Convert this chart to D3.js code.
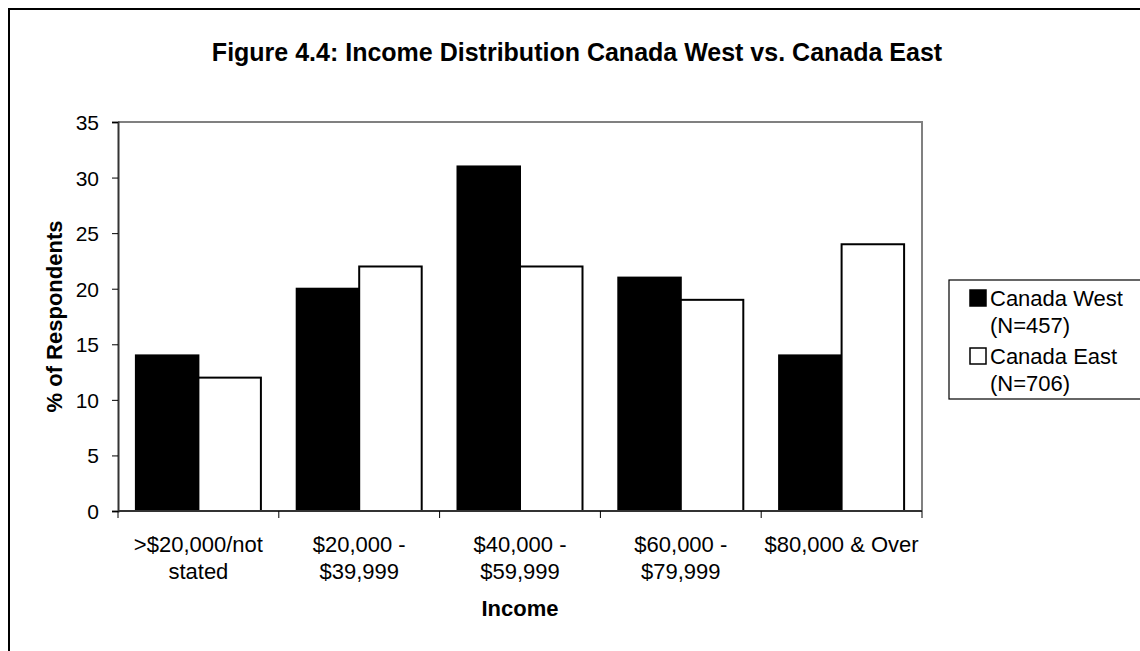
<!DOCTYPE html>
<html>
<head>
<meta charset="utf-8">
<script src="https://cdn.jsdelivr.net/npm/d3@7"></script>
<style>
  html, body { margin: 0; padding: 0; background: #fff; }
  svg { display: block; font-family: "Liberation Sans", Arial, sans-serif; }
</style>
</head>
<body>
<script>
// Income brackets and share of respondents (%) for each region
const categories = [
  [">$20,000/not", "stated"],
  ["$20,000 -", "$39,999"],
  ["$40,000 -", "$59,999"],
  ["$60,000 -", "$79,999"],
  ["$80,000 & Over"]
];
const westValues = [14, 20, 31, 21, 14];
const eastValues = [12, 22, 22, 19, 24];
const seriesNames = [["Canada West", "(N=457)"], ["Canada East", "(N=706)"]];
const yTicks = [0, 5, 10, 15, 20, 25, 30, 35];

const W = 1140, H = 651;
const plot = { left: 118, right: 922, top: 122, bottom: 511 };
const FONT = "Liberation Sans, Arial, sans-serif";

const svg = d3.select("body").append("svg").attr("width", W).attr("height", H);

// Outer chart frame
svg.append("rect").attr("x", 9).attr("y", 9).attr("width", W + 20).attr("height", H + 20)
  .attr("fill", "#fff").attr("stroke", "#000").attr("stroke-width", 2);

// Title
svg.append("text").attr("x", 577).attr("y", 61).attr("text-anchor", "middle")
  .attr("font-size", 25).attr("font-weight", "bold")
  .text("Figure 4.4: Income Distribution Canada West vs. Canada East");

const x0 = d3.scaleBand().domain(d3.range(categories.length))
  .range([plot.left, plot.right]).paddingInner(0).paddingOuter(0);
const inner = 125 / 160.8;
const x1 = d3.scaleBand().domain([0, 1])
  .range([0, x0.bandwidth()]).paddingOuter((1 - inner) / 2 / (inner / 2)).paddingInner(0);
const y = d3.scaleLinear().domain([0, 35]).range([plot.bottom, plot.top]);

// Plot area border (top and right)
svg.append("path")
  .attr("d", `M${plot.left},${plot.top}H${plot.right}V${plot.bottom}`)
  .attr("fill", "none").attr("stroke", "#808080").attr("stroke-width", 2);

// Bars
const series = [westValues, eastValues];
const fills = ["#000", "#fff"];
series.forEach((vals, si) => {
  svg.append("g").selectAll("rect").data(vals).join("rect")
    .attr("x", (d, i) => x0(i) + x1(si))
    .attr("y", d => y(d))
    .attr("width", x1.bandwidth())
    .attr("height", d => y(0) - y(d))
    .attr("fill", fills[si]).attr("stroke", "#000").attr("stroke-width", 2);
});

// Y axis
const yAxis = svg.append("g").attr("transform", `translate(${plot.left},0)`)
  .call(d3.axisLeft(y).tickValues(yTicks).tickSize(6).tickPadding(13));
yAxis.select(".domain").attr("stroke", "#333").attr("stroke-width", 2);
yAxis.selectAll(".tick line").attr("stroke", "#000");
yAxis.selectAll(".tick text").attr("font-size", 21).attr("fill", "#000")
  .attr("font-family", FONT).attr("dy", "0.36em");

// X axis with ticks at category boundaries
const xAxis = svg.append("g").attr("transform", `translate(0,${plot.bottom})`);
xAxis.append("line").attr("x1", plot.left).attr("x2", plot.right)
  .attr("stroke", "#333").attr("stroke-width", 2);
const bounds = d3.range(categories.length + 1).map(i => plot.left + i * x0.step());
xAxis.selectAll("line.tk").data(bounds).join("line").attr("class", "tk")
  .attr("x1", d => d).attr("x2", d => d).attr("y1", 0).attr("y2", 7)
  .attr("stroke", "#000");
const lbl = xAxis.selectAll("text.cat").data(categories).join("text").attr("class", "cat")
  .attr("x", (d, i) => x0(i) + x0.bandwidth() / 2)
  .attr("y", 41).attr("text-anchor", "middle").attr("font-size", 22);
lbl.selectAll("tspan").data(d => d).join("tspan")
  .attr("x", function () { return d3.select(this.parentNode).attr("x"); })
  .attr("dy", (d, i) => i === 0 ? 0 : 27)
  .text(d => d);

// Axis titles
svg.append("text").attr("x", (plot.left + plot.right) / 2).attr("y", 616)
  .attr("text-anchor", "middle").attr("font-size", 22).attr("font-weight", "bold")
  .text("Income");
svg.append("text").attr("transform", `translate(62,${(plot.top + plot.bottom) / 2}) rotate(-90)`)
  .attr("text-anchor", "middle").attr("font-size", 22).attr("font-weight", "bold")
  .text("% of Respondents");

// Legend
const legend = svg.append("g");
legend.append("rect").attr("x", 949).attr("y", 280).attr("width", 220).attr("height", 119)
  .attr("fill", "#fff").attr("stroke", "#000").attr("stroke-width", 1.2);
seriesNames.forEach((nm, i) => {
  const top = 290 + i * 58;
  legend.append("rect").attr("x", 970).attr("y", top).attr("width", 16).attr("height", 16)
    .attr("fill", fills[i]).attr("stroke", "#000").attr("stroke-width", 1.5);
  legend.append("text").attr("x", 990).attr("y", top + 16).attr("font-size", 22).text(nm[0]);
  legend.append("text").attr("x", 990).attr("y", top + 43).attr("font-size", 22).text(nm[1]);
});
</script>
</body>
</html>
